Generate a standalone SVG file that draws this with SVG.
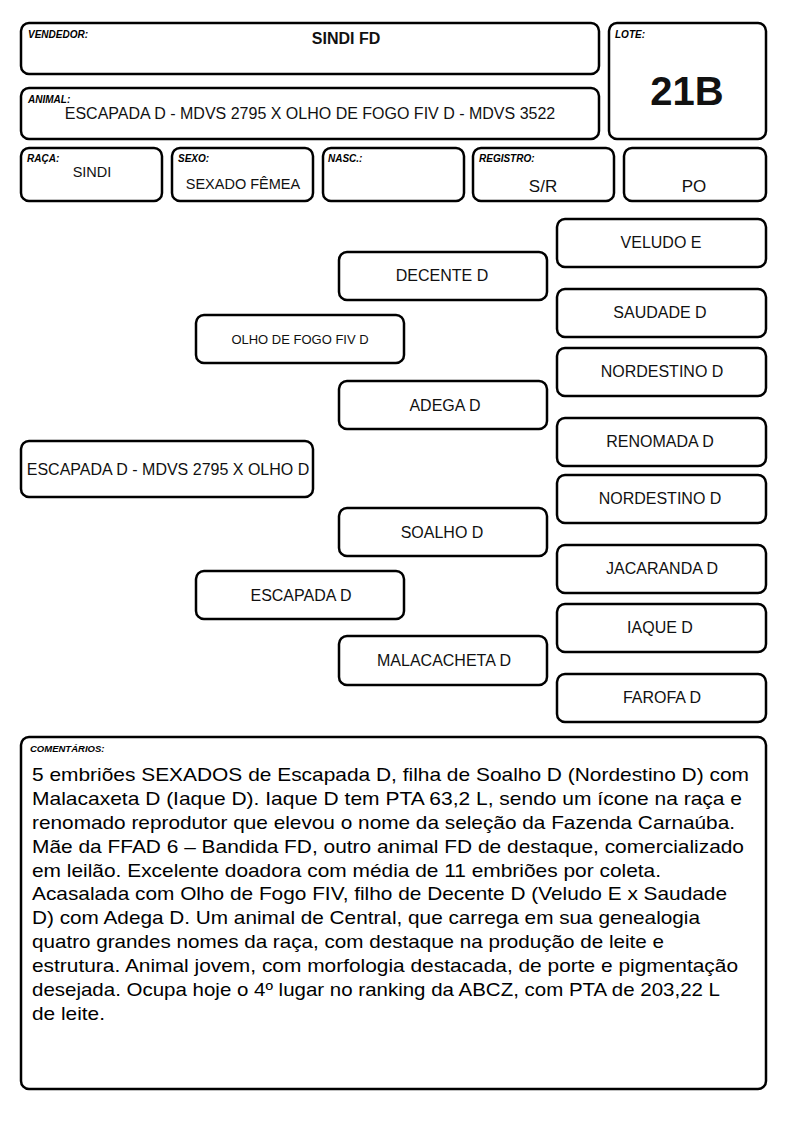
<svg xmlns="http://www.w3.org/2000/svg" width="794" height="1123" viewBox="0 0 794 1123">
<style>
.b{fill:#fff;stroke:#000;stroke-width:2.5}
.lb{font-family:"Liberation Sans",Arial,sans-serif;font-size:10px;font-weight:bold;font-style:italic;fill:#000}
.t{font-family:"Liberation Sans",Arial,sans-serif;font-size:16px;fill:#111;text-anchor:middle}
.c{font-family:"Liberation Sans",Arial,sans-serif;font-size:19px;fill:#000}
</style>
<rect width="794" height="1123" fill="#fff"/>
<g id="vendedor"><rect class="b" x="21" y="23" width="578" height="51" rx="8"/><text class="lb" x="28" y="38">VENDEDOR:</text><text class="t" x="346" y="44" style="font-weight:bold">SINDI FD</text></g>
<g id="animal"><rect class="b" x="21" y="88" width="578" height="51" rx="8"/><text class="lb" x="28" y="103">ANIMAL:</text><text class="t" x="310" y="119">ESCAPADA D - MDVS 2795 X OLHO DE FOGO FIV D - MDVS 3522</text></g>
<g id="lote"><rect class="b" x="609" y="23" width="157" height="116" rx="8"/><text class="lb" x="615" y="38">LOTE:</text><text class="t" x="687" y="105" style="font-size:40px;font-weight:bold">21B</text></g>
<g id="raca"><rect class="b" x="21" y="148" width="141" height="53" rx="8"/><text class="lb" x="27" y="162">RAÇA:</text><text class="t" x="92" y="177" style="font-size:14.5px">SINDI</text></g>
<g id="sexo"><rect class="b" x="172" y="148" width="141" height="53" rx="8"/><text class="lb" x="178" y="162">SEXO:</text><text class="t" x="243" y="189" style="font-size:14.5px">SEXADO FÊMEA</text></g>
<g id="nasc"><rect class="b" x="323" y="148" width="141" height="53" rx="8"/><text class="lb" x="328" y="162">NASC.:</text></g>
<g id="registro"><rect class="b" x="473" y="148" width="141" height="53" rx="8"/><text class="lb" x="479" y="162">REGISTRO:</text><text class="t" x="543" y="192" style="font-size:17px">S/R</text></g>
<g id="po"><rect class="b" x="624" y="148" width="142" height="53" rx="8"/><text class="t" x="694" y="192" style="font-size:17px">PO</text></g>
<g id="connectors"></g>
<g id="veludo"><rect class="b" x="557" y="219" width="209" height="48" rx="8"/><text class="t" x="661" y="248">VELUDO E</text></g>
<g id="decente"><rect class="b" x="339" y="252" width="208" height="48" rx="8"/><text class="t" x="442" y="281">DECENTE D</text></g>
<g id="saudade"><rect class="b" x="557" y="289" width="209" height="48" rx="8"/><text class="t" x="660" y="318">SAUDADE D</text></g>
<g id="olho"><rect class="b" x="196" y="315" width="208" height="48" rx="8"/><text class="t" x="300" y="344" style="font-size:13px">OLHO DE FOGO FIV D</text></g>
<g id="nordestino1"><rect class="b" x="557" y="348" width="209" height="48" rx="8"/><text class="t" x="662" y="377">NORDESTINO D</text></g>
<g id="adega"><rect class="b" x="339" y="381" width="208" height="48" rx="8"/><text class="t" x="445" y="411">ADEGA D</text></g>
<g id="renomada"><rect class="b" x="557" y="418" width="209" height="48" rx="8"/><text class="t" x="660" y="447">RENOMADA D</text></g>
<g id="escapada-mdvs"><rect class="b" x="21" y="441" width="292" height="56" rx="8"/><text class="t" x="168" y="475">ESCAPADA D - MDVS 2795 X OLHO D</text></g>
<g id="nordestino2"><rect class="b" x="557" y="475" width="209" height="48" rx="8"/><text class="t" x="660" y="504">NORDESTINO D</text></g>
<g id="soalho"><rect class="b" x="339" y="508" width="208" height="48" rx="8"/><text class="t" x="442" y="538">SOALHO D</text></g>
<g id="jacaranda"><rect class="b" x="557" y="545" width="209" height="48" rx="8"/><text class="t" x="662" y="574">JACARANDA D</text></g>
<g id="escapada"><rect class="b" x="196" y="571" width="208" height="48" rx="8"/><text class="t" x="301" y="601">ESCAPADA D</text></g>
<g id="iaque"><rect class="b" x="557" y="604" width="209" height="48" rx="8"/><text class="t" x="660" y="633">IAQUE D</text></g>
<g id="malacacheta"><rect class="b" x="339" y="636" width="208" height="49" rx="8"/><text class="t" x="444" y="666">MALACACHETA D</text></g>
<g id="farofa"><rect class="b" x="557" y="674" width="209" height="48" rx="8"/><text class="t" x="662" y="703">FAROFA D</text></g>
<g id="comentarios"><rect class="b" x="21" y="737" width="745" height="352" rx="8"/>
<text class="lb" x="30" y="752" style="font-size:9.5px">COMENTÁRIOS:</text>
<text class="c" x="32" y="781" textLength="717" lengthAdjust="spacingAndGlyphs">5 embriões SEXADOS de Escapada D, filha de Soalho D (Nordestino D) com</text>
<text class="c" x="32" y="805" textLength="710" lengthAdjust="spacingAndGlyphs">Malacaxeta D (Iaque D). Iaque D tem PTA 63,2 L, sendo um ícone na raça e</text>
<text class="c" x="32" y="829" textLength="703" lengthAdjust="spacingAndGlyphs">renomado reprodutor que elevou o nome da seleção da Fazenda Carnaúba.</text>
<text class="c" x="32" y="853" textLength="712" lengthAdjust="spacingAndGlyphs">Mãe da FFAD 6 – Bandida FD, outro animal FD de destaque, comercializado</text>
<text class="c" x="32" y="877" textLength="629" lengthAdjust="spacingAndGlyphs">em leilão. Excelente doadora com média de 11 embriões por coleta.</text>
<text class="c" x="32" y="900" textLength="695" lengthAdjust="spacingAndGlyphs">Acasalada com Olho de Fogo FIV, filho de Decente D (Veludo E x Saudade</text>
<text class="c" x="32" y="924" textLength="668" lengthAdjust="spacingAndGlyphs">D) com Adega D. Um animal de Central, que carrega em sua genealogia</text>
<text class="c" x="32" y="948" textLength="632" lengthAdjust="spacingAndGlyphs">quatro grandes nomes da raça, com destaque na produção de leite e</text>
<text class="c" x="32" y="972" textLength="706" lengthAdjust="spacingAndGlyphs">estrutura. Animal jovem, com morfologia destacada, de porte e pigmentação</text>
<text class="c" x="32" y="996" textLength="688" lengthAdjust="spacingAndGlyphs">desejada. Ocupa hoje o 4º lugar no ranking da ABCZ, com PTA de 203,22 L</text>
<text class="c" x="32" y="1020" textLength="73" lengthAdjust="spacingAndGlyphs">de leite.</text>
</g>
</svg>
